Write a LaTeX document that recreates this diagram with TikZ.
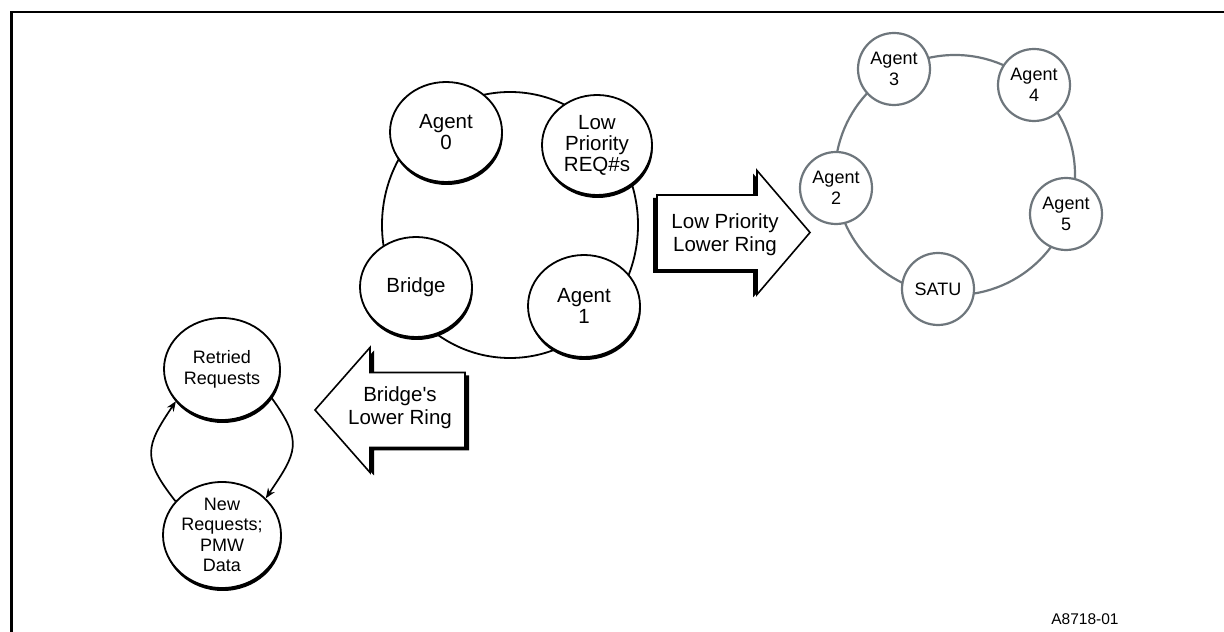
\documentclass[tikz,border=0pt]{standalone}
\usepackage{fontspec}
\setmainfont{Liberation Sans}
\usetikzlibrary{shapes.geometric,shadows,arrows.meta}
\definecolor{ringgray}{RGB}{110,118,124}
\tikzset{
  frameline/.style={line width=2.6pt},
  blob/.style={ellipse, draw=black, line width=1.8pt, fill=white, inner sep=0pt,
    align=center, font=\fontsize{20.5}{21}\selectfont,
    drop shadow={shadow xshift=0.8pt, shadow yshift=-3pt, fill=black, opacity=1}},
  smallblob/.style={blob, font=\fontsize{18}{21}\selectfont},
  graybox/.style={circle, draw=ringgray, line width=2.2pt, fill=white, inner sep=0pt,
    minimum size=72pt, align=center, font=\fontsize{18}{21}\selectfont},
  blockarrow/.style={draw=black, fill=white, line width=1.6pt, line join=miter},
  arrowshadow/.style={fill=black},
  arrowtext/.style={align=center, inner sep=0pt, font=\fontsize{20.5}{23}\selectfont},
  cycleflow/.style={line width=1.7pt, -{Stealth[length=10pt,width=8pt]}, looseness=1.4},
}
\begin{document}
\begin{tikzpicture}[x=1pt,y=1pt]
\useasboundingbox (0,0) rectangle (1224,632);

% frame edges
\draw[frameline] (11.2,0) -- (11.2,619.8) -- (1224,619.8);

% central ring
\coordinate (ringc) at (510,407);
\draw[line width=1.8pt] (ringc) ellipse [x radius=128pt, y radius=133pt];
\node[blob, minimum width=112pt, minimum height=100pt] (a0) at (446,500) {Agent\\0};
\node[blob, minimum width=110pt, minimum height=100pt] (lp) at (597,487) {Low\\Priority\\REQ\#s};
\node[blob, minimum width=112pt, minimum height=100pt] (br) at (416,345) {Bridge};
\node[blob, minimum width=112pt, minimum height=102pt] (a1) at (584,326) {Agent\\1};

% low priority lower ring (gray)
\coordinate (grayc) at (955,457);
\draw[ringgray, line width=2.2pt] (grayc) circle [radius=120pt];
\node[graybox] (a3) at (894,563) {Agent\\3};
\node[graybox] (a4) at (1034,547) {Agent\\4};
\node[graybox] (a2) at (836,444) {Agent\\2};
\node[graybox] (a5) at (1066,418) {Agent\\5};
\node[graybox] (satu) at (938,343) {SATU};

% right block arrow
\begin{scope}[shift={(-4,-3)}]
\fill[arrowshadow] (657,437) -- (757,437) -- (757,461.5) -- (810,399.5)
  -- (757,337.5) -- (757,362) -- (657,362) -- cycle;
\end{scope}
\draw[blockarrow] (657,437) -- (757,437) -- (757,461.5) -- (810,399.5)
  -- (757,337.5) -- (757,362) -- (657,362) -- cycle;
\node[arrowtext] (lptxt) at (725,397) {Low Priority\\Lower Ring};

% left block arrow
\begin{scope}[shift={(4,-3)}]
\fill[arrowshadow] (465,259.5) -- (370,259.5) -- (370,284.5) -- (315,222)
  -- (370,159.5) -- (370,184.5) -- (465,184.5) -- cycle;
\end{scope}
\draw[blockarrow] (465,259.5) -- (370,259.5) -- (370,284.5) -- (315,222)
  -- (370,159.5) -- (370,184.5) -- (465,184.5) -- cycle;
\node[arrowtext] (brtxt) at (400,224) {Bridge\textquotesingle s\\Lower Ring};

% bridge's lower ring
\node[smallblob, minimum width=116pt, minimum height=102pt] (ret) at (222,263) {Retried\\Requests};
\node[smallblob, inner ysep=-3pt, minimum width=118pt, minimum height=106pt,
  font=\fontsize{18}{20.3}\selectfont] (new) at (222,97) {New\\Requests;\\PMW\\Data};
\draw[cycleflow] (ret.-30) to[out=-54, in=56] (new.40);
\draw[cycleflow] (new.144) to[out=128, in=-124] (ret.215);

% figure number
\node[font=\fontsize{15.5}{18}\selectfont, inner sep=0pt] (fignum) at (1085,13) {A8718-01};
\end{tikzpicture}
\end{document}
